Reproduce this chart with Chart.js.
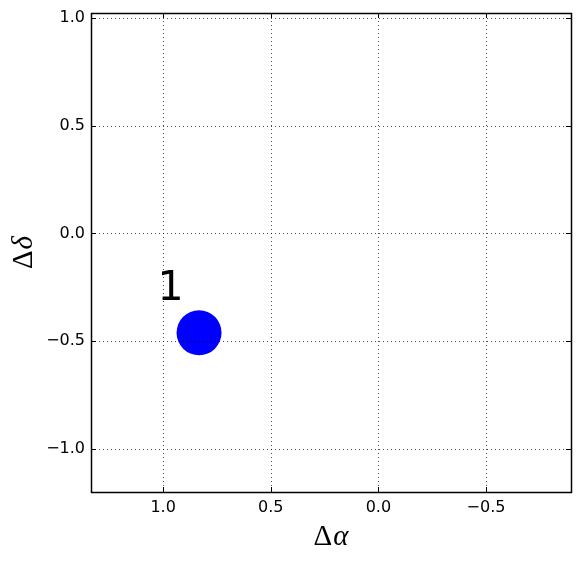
<!DOCTYPE html>
<html>
<head>
<meta charset="utf-8">
<script src="https://cdn.jsdelivr.net/npm/chart.js@4/dist/chart.umd.min.js"></script>
<style>
  html, body { margin: 0; padding: 0; background: #fff; }
  #wrap { width: 580px; height: 561px; }
</style>
</head>
<body>
<div id="wrap"><canvas id="myChart" width="580" height="561"></canvas></div>
<script>
// data
const pointX = [0.833];
const pointY = [-0.461];
const pointLabels = ['1'];

const xTicks = [1.0, 0.5, 0.0, -0.5];
const yTicks = [1.0, 0.5, 0.0, -0.5, -1.0];

const xMin = -0.895, xMax = 1.335;
const yMin = -1.2, yMax = 1.023;

const fmt = v => (v < 0 ? '\u2212' : '') + Math.abs(v).toFixed(1);

// frame, dotted grid, inward ticks, labels, axis titles
const decor = {
  id: 'decor',
  afterDatasetsDraw(chart) {
    const { ctx, chartArea: a, scales } = chart;
    const xs = scales.x, ys = scales.y;
    ctx.save();
    // grid
    ctx.strokeStyle = 'rgba(0,0,0,0.7)';
    ctx.lineWidth = 1;
    ctx.setLineDash([1, 3]);
    xTicks.forEach(v => {
      const px = Math.round(xs.getPixelForValue(v)) + 0.5;
      ctx.beginPath(); ctx.moveTo(px, a.top); ctx.lineTo(px, a.bottom); ctx.stroke();
    });
    yTicks.forEach(v => {
      const py = Math.round(ys.getPixelForValue(v)) + 0.5;
      ctx.beginPath(); ctx.moveTo(a.left, py); ctx.lineTo(a.right, py); ctx.stroke();
    });
    ctx.setLineDash([]);
    // ticks, inward on all sides
    ctx.strokeStyle = '#000';
    const tl = 5;
    xTicks.forEach(v => {
      const px = Math.round(xs.getPixelForValue(v)) + 0.5;
      ctx.beginPath(); ctx.moveTo(px, a.bottom); ctx.lineTo(px, a.bottom - tl); ctx.stroke();
      ctx.beginPath(); ctx.moveTo(px, a.top); ctx.lineTo(px, a.top + tl); ctx.stroke();
    });
    yTicks.forEach(v => {
      const py = Math.round(ys.getPixelForValue(v)) + 0.5;
      ctx.beginPath(); ctx.moveTo(a.left, py); ctx.lineTo(a.left + tl, py); ctx.stroke();
      ctx.beginPath(); ctx.moveTo(a.right, py); ctx.lineTo(a.right - tl, py); ctx.stroke();
    });
    // frame
    ctx.lineWidth = 1.5;
    ctx.strokeRect(Math.round(a.left) + 0.5, Math.round(a.top) + 0.5,
      Math.round(a.right - a.left), Math.round(a.bottom - a.top));
    // point labels
    ctx.fillStyle = '#000';
    ctx.font = '41px "DejaVu Sans"';
    ctx.textAlign = 'center';
    ctx.textBaseline = 'alphabetic';
    pointLabels.forEach((t, i) => {
      const px = xs.getPixelForValue(pointX[i] + 0.133);
      const py = ys.getPixelForValue(pointY[i] + 0.152);
      ctx.fillText(t, px, py);
    });
    // axis titles
    const drawMath = (g, sym, x, y) => {
      ctx.font = '29px "Liberation Serif"';
      const w1 = ctx.measureText(g).width;
      ctx.font = 'italic 29px "Liberation Serif"';
      const w2 = ctx.measureText(sym).width;
      const start = x - (w1 + w2 + 1) / 2;
      ctx.textAlign = 'left';
      ctx.font = '29px "Liberation Serif"';
      ctx.fillText(g, start, y);
      ctx.font = 'italic 29px "Liberation Serif"';
      ctx.fillText(sym, start + w1 + 1, y);
    };
    drawMath('\u0394', '\u03b1', (a.left + a.right) / 2, 545);
    ctx.save();
    ctx.translate(32, (a.top + a.bottom) / 2);
    ctx.rotate(-Math.PI / 2);
    drawMath('\u0394', '\u03b4', 0, 0);
    ctx.restore();
    ctx.restore();
  }
};

const noPad = s => {
  s.paddingTop = 0; s.paddingBottom = 0; s.paddingLeft = 0; s.paddingRight = 0;
};

const ctx = document.getElementById('myChart').getContext('2d');
const config = {
  type: 'scatter',
  data: {
    datasets: [{
      data: pointX.map((x, i) => ({ x: x, y: pointY[i] })),
      backgroundColor: '#0000ff',
      borderColor: '#0000ff',
      borderWidth: 0,
      pointRadius: 22.5,
      pointHoverRadius: 22.5
    }]
  },
  options: {
    responsive: false,
    animation: false,
    events: [],
    layout: { autoPadding: false, padding: { top: 13, right: 9, left: 0, bottom: 0 } },
    plugins: { legend: { display: false }, tooltip: { enabled: false } },
    scales: {
      x: {
        type: 'linear',
        reverse: true,
        min: xMin,
        max: xMax,
        afterBuildTicks: s => { s.ticks = xTicks.map(v => ({ value: v })); },
        afterFit: s => { s.height = 69; noPad(s); },
        grid: { display: false, drawTicks: false },
        border: { display: false },
        ticks: {
          padding: 6,
          color: '#000',
          font: { family: 'DejaVu Sans', size: 16 },
          maxRotation: 0,
          callback: v => fmt(v)
        }
      },
      y: {
        type: 'linear',
        min: yMin,
        max: yMax,
        afterBuildTicks: s => { s.ticks = yTicks.map(v => ({ value: v })); },
        afterFit: s => { s.width = 91; noPad(s); },
        grid: { display: false, drawTicks: false },
        border: { display: false },
        ticks: {
          padding: 6,
          color: '#000',
          font: { family: 'DejaVu Sans', size: 16 },
          callback: v => fmt(v)
        }
      }
    }
  },
  plugins: [decor]
};

const myChart = new Chart(ctx, config);
</script>
</body>
</html>
